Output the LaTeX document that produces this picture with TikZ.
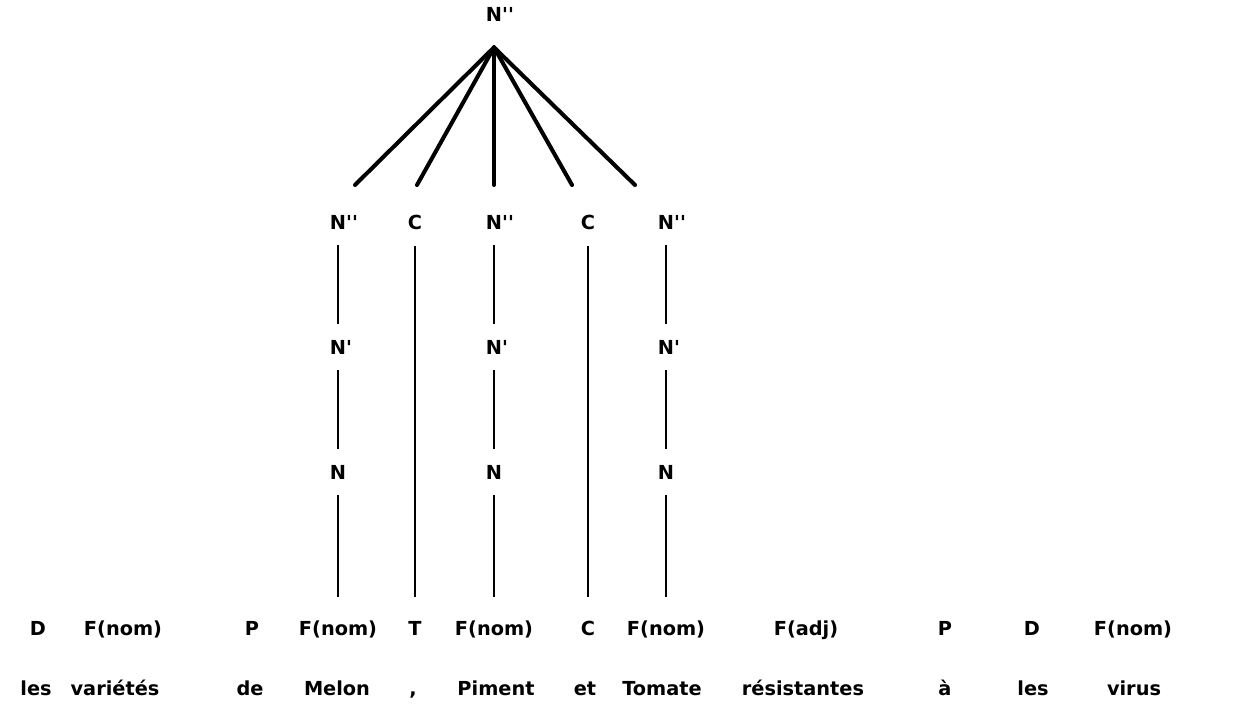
\documentclass[tikz,border=0pt]{standalone}
\usepackage{fontspec}
\setmainfont{DejaVu Sans}
\usetikzlibrary{positioning}

\newcommand{\Nbar}{N\rlap{\textquotesingle\textquotesingle}}
\newcommand{\Nprime}{N\rlap{\textquotesingle}}

\begin{document}
\begin{tikzpicture}[x=0.02cm, y=-0.02cm,
    lab/.style={font=\bfseries\fontsize{11}{13}\selectfont, inner xsep=0pt, inner ysep=0.32cm},
    cat/.style={font=\bfseries\fontsize{11}{13}\selectfont, text height=8pt, text depth=2pt, inner xsep=0pt, inner ysep=0.48cm},
    word/.style={font=\bfseries\fontsize{11}{13}\selectfont, inner sep=0pt, anchor=base},
    branch/.style={line width=2.3pt, line cap=round},
    stem/.style={line width=1.2pt}]
    \useasboundingbox (0,0) rectangle (1240,706);

    % Top node and its branches
    \node[lab, inner ysep=0.52cm] (top) at (494,14) {\Nbar};
    \coordinate (e1) at (355,185);
    \coordinate (e2) at (417,185);
    \coordinate (e3) at (494,185);
    \coordinate (e4) at (572,185);
    \coordinate (e5) at (635,185);
    \foreach \e in {e1,e2,e3,e4,e5}
      \draw[branch] (top.south) -- (\e);

    % The tree labels
    \node[lab] (np1) at (338,222) {\Nbar};
    \node[lab] (c1) at (415,222) {C};
    \node[lab] (np2) at (494,222) {\Nbar};
    \node[lab] (c2) at (588,222) {C};
    \node[lab] (np3) at (666,222) {\Nbar};

    \node[lab] (nb1) at (338,347) {\Nprime};
    \node[lab] (nb2) at (494,347) {\Nprime};
    \node[lab] (nb3) at (666,347) {\Nprime};

    \node[lab] (n1) at (338,472) {N};
    \node[lab] (n2) at (494,472) {N};
    \node[lab] (n3) at (666,472) {N};

    % The categories
    \node[cat] (d1) at (38,630) {D};
    \node[cat] (f1) at (123,630) {F(nom)};
    \node[cat] (p1) at (252,630) {P};
    \node[cat] (f2) at (338,630) {F(nom)};
    \node[cat] (t1) at (415,630) {T};
    \node[cat] (f3) at (494,630) {F(nom)};
    \node[cat] (k1) at (588,630) {C};
    \node[cat] (f4) at (666,630) {F(nom)};
    \node[cat] (a1) at (806,630) {F(adj)};
    \node[cat] (p2) at (945,630) {P};
    \node[cat] (d2) at (1032,630) {D};
    \node[cat] (f5) at (1133,630) {F(nom)};

    % The words
    \node[word] (w1) at (36,695) {les};
    \node[word] (w2) at (115,695) {variétés};
    \node[word] (w3) at (250,695) {de};
    \node[word] (w4) at (337,695) {Melon};
    \node[word] (w5) at (413,695) {,};
    \node[word] (w6) at (496,695) {Piment};
    \node[word] (w7) at (585,695) {et};
    \node[word] (w8) at (662,695) {Tomate};
    \node[word] (w9) at (803,695) {résistantes};
    \node[word] (w10) at (945,695) {à};
    \node[word] (w11) at (1033,695) {les};
    \node[word] (w12) at (1134,695) {virus};

    % Vertical lines
    \draw[stem] (np1) -- (nb1);
    \draw[stem] (nb1) -- (n1);
    \draw[stem] (n1) -- (f2);
    \draw[stem] (c1) -- (t1);
    \draw[stem] (np2) -- (nb2);
    \draw[stem] (nb2) -- (n2);
    \draw[stem] (n2) -- (f3);
    \draw[stem] (c2) -- (k1);
    \draw[stem] (np3) -- (nb3);
    \draw[stem] (nb3) -- (n3);
    \draw[stem] (n3) -- (f4);
\end{tikzpicture}
\end{document}
